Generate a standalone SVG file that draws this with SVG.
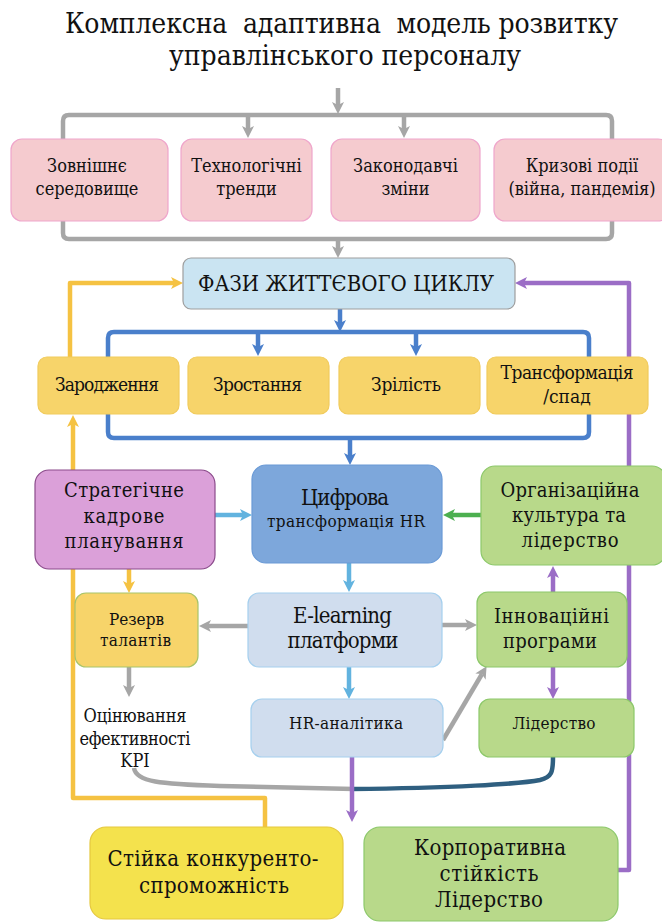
<svg xmlns="http://www.w3.org/2000/svg" width="662" height="922" viewBox="0 0 662 922">
  <defs>
    <style>
      text { fill: #111; text-anchor: middle; font-family: "DejaVu Serif Condensed", "DejaVu Serif", serif; }
      .title { font-size: 28px; }
      .t17 { font-size: 17px; }
      .t18 { font-size: 18px; }
      .t19 { font-size: 19px; }
      .t20 { font-size: 20px; }
      .t22 { font-size: 22px; }
      .pink { fill: #F5CBCF; stroke: #EFA6CB; stroke-width: 1.2; }
      .phase { fill: #F7D46A; stroke: #F1CB5C; stroke-width: 1.2; }
      .sky { fill: #CAE4F2; stroke: #9E9E9E; stroke-width: 1.2; }
      .orchid { fill: #DBA0D9; stroke: #8B4B8B; stroke-width: 1.2; }
      .blue { fill: #7DA7DB; stroke: #6A9AD6; stroke-width: 1.2; }
      .pale { fill: #D0DDEE; stroke: #A6D0EE; stroke-width: 1.2; }
      .lime { fill: #B8D98A; stroke: #8CC86A; stroke-width: 1.2; }
      .gold { fill: #F7D46A; stroke: #A8C46A; stroke-width: 1.2; }
      .lemon { fill: #F4E24D; stroke: #E5C83F; stroke-width: 1.2; }
      .c { fill: none; stroke-width: 4.5; stroke-linejoin: round; }
      .gray { stroke: #A6A6A6; }
      .royal { stroke: #4A7FCB; }
      .yellow { stroke: #F5C242; }
      .purple { stroke: #9B6DC6; }
      .light { stroke: #62B3DF; }
      .green { stroke: #4CAF50; }
      .teal { stroke: #2F5F80; }
    </style>
    <marker id="aGray" viewBox="0 0 12 12" refX="3" refY="6" markerWidth="12" markerHeight="12" markerUnits="userSpaceOnUse" orient="auto"><path d="M0,0 L12,6 L0,12 L3,6 z" fill="#A6A6A6"/></marker>
    <marker id="aBlue" viewBox="0 0 12 12" refX="3" refY="6" markerWidth="12" markerHeight="12" markerUnits="userSpaceOnUse" orient="auto"><path d="M0,0 L12,6 L0,12 L3,6 z" fill="#4A7FCB"/></marker>
    <marker id="aYellow" viewBox="0 0 12 12" refX="3" refY="6" markerWidth="12" markerHeight="12" markerUnits="userSpaceOnUse" orient="auto"><path d="M0,0 L12,6 L0,12 L3,6 z" fill="#F5C242"/></marker>
    <marker id="aPurple" viewBox="0 0 12 12" refX="3" refY="6" markerWidth="12" markerHeight="12" markerUnits="userSpaceOnUse" orient="auto"><path d="M0,0 L12,6 L0,12 L3,6 z" fill="#9B6DC6"/></marker>
    <marker id="aLight" viewBox="0 0 12 12" refX="3" refY="6" markerWidth="12" markerHeight="12" markerUnits="userSpaceOnUse" orient="auto"><path d="M0,0 L12,6 L0,12 L3,6 z" fill="#62B3DF"/></marker>
    <marker id="aGreen" viewBox="0 0 12 12" refX="3" refY="6" markerWidth="12" markerHeight="12" markerUnits="userSpaceOnUse" orient="auto"><path d="M0,0 L12,6 L0,12 L3,6 z" fill="#4CAF50"/></marker>
  </defs>

  <rect width="662" height="922" fill="#FFFFFF"/>

  <!-- heading -->
  <g id="title">
    <text class="title" x="341.5" y="33" textLength="553" xml:space="preserve">Комплексна  адаптивна  модель розвитку</text>
    <text class="title" x="345" y="65" textLength="352">управлінського персоналу</text>
  </g>

  <!-- connectors -->
  <g id="connectors">
    <!-- external factors bracket -->
    <path class="c gray" d="M338,88 V105" marker-end="url(#aGray)"/>
    <path class="c gray" d="M63,139 V121 Q63,115 69,115 H606 Q612,115 612,121 V139"/>
    <path class="c gray" d="M248,115 V129" marker-end="url(#aGray)"/>
    <path class="c gray" d="M404,115 V129" marker-end="url(#aGray)"/>
    <path class="c gray" d="M63,221 V233 Q63,239 69,239 H606 Q612,239 612,233 V221"/>
    <path class="c gray" d="M338,239 V249" marker-end="url(#aGray)"/>

    <!-- life-cycle bracket -->
    <path class="c royal" d="M340,309 V323" marker-end="url(#aBlue)"/>
    <path class="c royal" d="M108,357 V338 Q108,332 114,332 H583 Q589,332 589,338 V357"/>
    <path class="c royal" d="M258,332 V347" marker-end="url(#aBlue)"/>
    <path class="c royal" d="M416,332 V347" marker-end="url(#aBlue)"/>
    <path class="c royal" d="M108,414 V432 Q108,438 114,438 H583 Q589,438 589,432 V414"/>
    <path class="c royal" d="M350,438 V456" marker-end="url(#aBlue)"/>

    <!-- feedback loops -->
    <path class="c yellow" d="M70,357 V283 H174" marker-end="url(#aYellow)"/>
    <path class="c yellow" d="M265,827 V798 H73 V424" marker-end="url(#aYellow)"/>
    <path class="c purple" d="M618,870 H629 V283 H524" marker-end="url(#aPurple)"/>

    <!-- middle block -->
    <path class="c light" d="M215,515 H243" marker-end="url(#aLight)"/>
    <path class="c green" d="M481,515 H452" marker-end="url(#aGreen)"/>
    <path class="c light" d="M349,563 V583" marker-end="url(#aLight)"/>
    <path class="c yellow" d="M129,569 V584" marker-end="url(#aYellow)"/>
    <path class="c gray" d="M248,626 H208" marker-end="url(#aGray)"/>
    <path class="c gray" d="M442,625 H468" marker-end="url(#aGray)"/>
    <path class="c purple" d="M553,592 V575" marker-end="url(#aPurple)"/>
    <path class="c purple" d="M553,667 V690" marker-end="url(#aPurple)"/>
    <path class="c light" d="M349,667 V690" marker-end="url(#aLight)"/>
    <path class="c gray" d="M129,667 V688" marker-end="url(#aGray)"/>
    <path class="c gray" d="M443,740 L482,674" marker-end="url(#aGray)"/>

    <!-- evaluation loop -->
    <path class="c gray" d="M134,768 C136,782 160,784 220,786 L354,789"/>
    <path class="c teal" d="M352,789 C450,788 520,784 540,780 C552,777 553,772 553,757"/>
    <path class="c purple" d="M352,757 V813" marker-end="url(#aPurple)"/>
  </g>

  <!-- external factors -->
  <g id="zovnishnie">
    <rect class="pink" x="11" y="139" width="157" height="82" rx="11"/>
    <text class="t18" x="87" y="172">Зовнішнє</text>
    <text class="t18" x="87" y="195">середовище</text>
  </g>
  <g id="tekhnolohichni">
    <rect class="pink" x="181" y="139" width="131" height="82" rx="11"/>
    <text class="t18" x="246.5" y="172">Технологічні</text>
    <text class="t18" x="246.5" y="195">тренди</text>
  </g>
  <g id="zakonodavchi">
    <rect class="pink" x="331" y="139" width="149" height="82" rx="11"/>
    <text class="t18" x="405.5" y="172">Законодавчі</text>
    <text class="t18" x="405.5" y="195">зміни</text>
  </g>
  <g id="kryzovi">
    <rect class="pink" x="494" y="139" width="175" height="82" rx="11"/>
    <text class="t18" x="582" y="172">Кризові події</text>
    <text class="t18" x="582" y="195">(війна, пандемія)</text>
  </g>

  <!-- life cycle -->
  <g id="fazy">
    <rect class="sky" x="183" y="258" width="332" height="51" rx="8"/>
    <text class="t22" x="346" y="291" textLength="296">ФАЗИ ЖИТТЄВОГО ЦИКЛУ</text>
  </g>
  <g id="zarodzhennia">
    <rect class="phase" x="38" y="357" width="141" height="57" rx="9"/>
    <text class="t19" x="107" y="391" textLength="104">Зародження</text>
  </g>
  <g id="zrostannia">
    <rect class="phase" x="188" y="357" width="141" height="57" rx="9"/>
    <text class="t19" x="257.5" y="391" textLength="89">Зростання</text>
  </g>
  <g id="zrilist">
    <rect class="phase" x="339" y="357" width="141" height="57" rx="9"/>
    <text class="t19" x="406" y="391" textLength="70">Зрілість</text>
  </g>
  <g id="transformatsiia">
    <rect class="phase" x="487" y="357" width="161" height="57" rx="9"/>
    <text class="t19" x="567" y="379" textLength="133">Трансформація</text>
    <text class="t19" x="567" y="403">/спад</text>
  </g>

  <!-- core block -->
  <g id="stratehichne">
    <rect class="orchid" x="35" y="470" width="180" height="99" rx="14"/>
    <text class="t20" x="124" y="497" textLength="120">Стратегічне</text>
    <text class="t20" x="124" y="523" textLength="81">кадрове</text>
    <text class="t20" x="124" y="548" textLength="119">планування</text>
  </g>
  <g id="tsyfrova">
    <rect class="blue" x="252" y="465" width="190" height="98" rx="14"/>
    <text class="t22" x="345" y="505" textLength="88">Цифрова</text>
    <text class="t17" x="346" y="527" textLength="158">трансформація HR</text>
  </g>
  <g id="orhanizatsiina">
    <rect class="lime" x="481" y="466" width="185" height="99" rx="14"/>
    <text class="t20" x="570" y="497" textLength="139">Організаційна</text>
    <text class="t20" x="569" y="522" textLength="114">культура та</text>
    <text class="t20" x="570" y="547" textLength="97">лідерство</text>
  </g>
  <g id="rezerv">
    <rect class="gold" x="75" y="593" width="123" height="74" rx="11"/>
    <text class="t17" x="136.5" y="625" textLength="55">Резерв</text>
    <text class="t17" x="135.5" y="646" textLength="71">талантів</text>
  </g>
  <g id="elearning">
    <rect class="pale" x="248" y="593" width="194" height="74" rx="11"/>
    <text class="t22" x="342.5" y="623" textLength="99">E-learning</text>
    <text class="t22" x="343" y="648" textLength="111">платформи</text>
  </g>
  <g id="innovatsiini">
    <rect class="lime" x="477" y="592" width="150" height="75" rx="11"/>
    <text class="t20" x="551.5" y="623" textLength="115">Інноваційні</text>
    <text class="t20" x="550" y="648" textLength="94">програми</text>
  </g>
  <g id="otsiniuvannia">
    <text class="t18" x="135" y="722" textLength="103">Оцінювання</text>
    <text class="t18" x="135" y="745" textLength="111">ефективності</text>
    <text class="t18" x="135" y="767">KPI</text>
  </g>
  <g id="hr-analityka">
    <rect class="pale" x="251" y="699" width="192" height="58" rx="11"/>
    <text class="t17" x="346" y="729" textLength="114">HR-аналітика</text>
  </g>
  <g id="liderstvo">
    <rect class="lime" x="479" y="699" width="155" height="58" rx="11"/>
    <text class="t17" x="554" y="729" textLength="83">Лідерство</text>
  </g>

  <!-- outcomes -->
  <g id="stiika">
    <rect class="lemon" x="90" y="827" width="253" height="92" rx="16"/>
    <text class="t22" x="213" y="866" textLength="211">Стійка конкуренто-</text>
    <text class="t22" x="214" y="893" textLength="150">спроможність</text>
  </g>
  <g id="korporatyvna">
    <rect class="lime" x="364" y="827" width="254" height="94" rx="16"/>
    <text class="t22" x="490" y="855" textLength="152">Корпоративна</text>
    <text class="t22" x="489" y="881" textLength="99">стійкість</text>
    <text class="t22" x="489" y="907" textLength="108">Лідерство</text>
  </g>
</svg>
